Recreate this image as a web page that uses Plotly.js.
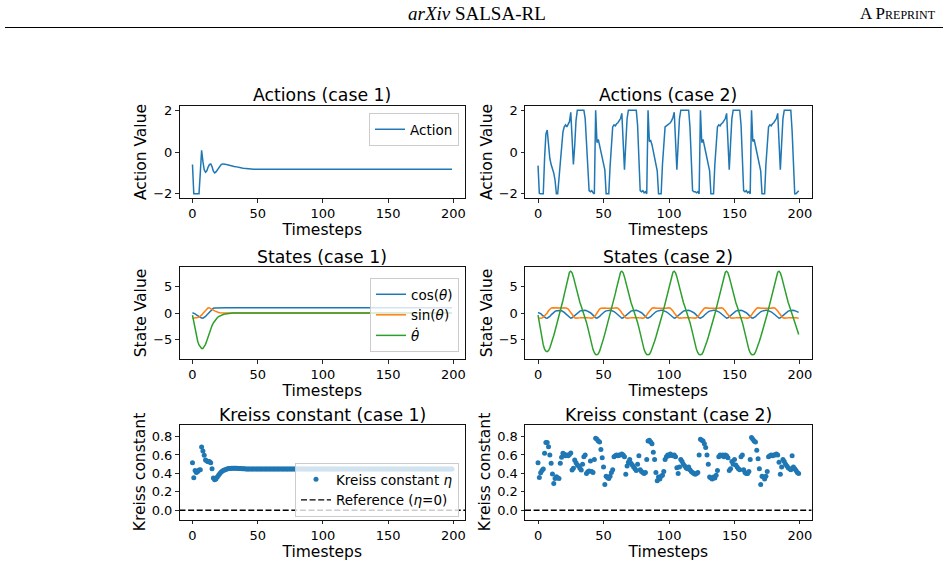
<!DOCTYPE html>
<html>
<head>
<meta charset="utf-8">
<script src="https://cdn.plot.ly/plotly-3.0.1.min.js"></script>
<style>
  html, body { margin: 0; padding: 0; background: #fff; }
  #chart { width: 948px; height: 565px; }
</style>
</head>
<body>
<div id="chart"></div>
<script>
// ---- Case 1: actions ----
const action1 = [
  -0.6, -2.0, -2.0, -2.0, -2.0, -2.0, -1.0, 0.08, -0.45, -0.85,
  -0.97, -0.9, -0.72, -0.6, -0.57, -0.7, -0.92, -1.0, -0.95, -0.85,
  -0.75, -0.66, -0.6, -0.57, -0.56, -0.58, -0.6, -0.62, -0.64, -0.65,
  -0.67, -0.68, -0.69, -0.7, -0.72, -0.73, -0.75, -0.76, -0.77, -0.78,
  -0.79, -0.8, -0.81, -0.82, -0.83, -0.83, -0.83, -0.83, -0.83, -0.83,
  -0.83, -0.83, -0.83, -0.83, -0.83, -0.83, -0.83, -0.83, -0.83, -0.83,
  -0.83, -0.83, -0.83, -0.83, -0.83, -0.83, -0.83, -0.83, -0.83, -0.83,
  -0.83, -0.83, -0.83, -0.83, -0.83, -0.83, -0.83, -0.83, -0.83, -0.83,
  -0.83, -0.83, -0.83, -0.83, -0.83, -0.83, -0.83, -0.83, -0.83, -0.83,
  -0.83, -0.83, -0.83, -0.83, -0.83, -0.83, -0.83, -0.83, -0.83, -0.83,
  -0.83, -0.83, -0.83, -0.83, -0.83, -0.83, -0.83, -0.83, -0.83, -0.83,
  -0.83, -0.83, -0.83, -0.83, -0.83, -0.83, -0.83, -0.83, -0.83, -0.83,
  -0.83, -0.83, -0.83, -0.83, -0.83, -0.83, -0.83, -0.83, -0.83, -0.83,
  -0.83, -0.83, -0.83, -0.83, -0.83, -0.83, -0.83, -0.83, -0.83, -0.83,
  -0.83, -0.83, -0.83, -0.83, -0.83, -0.83, -0.83, -0.83, -0.83, -0.83,
  -0.83, -0.83, -0.83, -0.83, -0.83, -0.83, -0.83, -0.83, -0.83, -0.83,
  -0.83, -0.83, -0.83, -0.83, -0.83, -0.83, -0.83, -0.83, -0.83, -0.83,
  -0.83, -0.83, -0.83, -0.83, -0.83, -0.83, -0.83, -0.83, -0.83, -0.83,
  -0.83, -0.83, -0.83, -0.83, -0.83, -0.83, -0.83, -0.83, -0.83, -0.83,
  -0.83, -0.83, -0.83, -0.83, -0.83, -0.83, -0.83, -0.83, -0.83, -0.83
];

// ---- Case 2: actions ----
const action2 = [
  -0.65, -1.98, -2, -2, -2, -0.3, 0.85, 1.05, 0.3, -0.3,
  -0.6, -0.8, -1.0, -1.35, -2, -2, -1.2, -0.3, 0.3, 0.95,
  1.2, 1.3, 1.2, 1.35, 1.45, 1.9, 0.4, -0.6, 0.3, 1.5,
  2, 2, 2, 2, 2, 2, 1.6, 0.2, -1.2, -1.85,
  -1.9, -1.85, -1.95, -2,
  2.0, 0.45, 0.6, 0.3, 0.0, -0.25, -0.5, -0.85, -2, -2,
  -2, -0.7, 0.55, 1.2, 1.3, 1.25, 1.35, 1.4, 1.5, 1.6,
  1.85, 0.6, -0.85, 0.4, 1.6, 2, 2, 2, 2, 2,
  2, 2, 1.3, -0.5, -1.85, -1.9, -1.85, -1.95, -1.9, -2,
  2.0, 0.5, 0.55, 0.35, 0.05, -0.2, -0.5, -0.9, -2, -2,
  -2, -0.6, 0.6, 1.2, 1.25, 1.3, 1.35, 1.4, 1.5, 1.65,
  1.9, 0.5, -0.85, 0.4, 1.6, 2, 2, 2, 2, 2,
  2, 2, 1.2, -0.6, -1.85, -1.9, -1.9, -1.95, -1.9, -2,
  2.0, 0.45, 0.6, 0.3, 0.0, -0.3, -0.55, -0.9, -2, -2,
  -2, -0.6, 0.6, 1.2, 1.3, 1.25, 1.35, 1.4, 1.5, 1.6,
  1.85, 0.5, -0.85, 0.4, 1.6, 2, 2, 2, 2, 2,
  2, 1.3, -0.5, -1.85, -1.9, -1.85, -1.95, -1.9, -2,
  2.0, 0.5, 0.6, 0.3, 0.0, -0.3, -0.55, -0.9, -2, -2,
  -2, -0.6, 0.6, 1.2, 1.3, 1.25, 1.35, 1.4, 1.5, 1.6,
  1.85, 0.5, -0.85, 0.4, 1.6, 2, 2, 2, 2, 2,
  2, 1.0, -0.8, -2, -2, -1.9, -1.85
];

// ---- Case 1: states ----
const cos1 = [
  0.05, 0.0, -0.15, -0.35, -0.55, -0.75, -0.9, -0.98, -1.0, -0.88,
  -0.65, -0.38, -0.1, 0.25, 0.55, 0.78, 0.9, 0.96, 0.98, 0.99,
  1, 1, 1, 1, 1, 1, 1, 1, 1, 1,
  1, 1, 1, 1, 1, 1, 1, 1, 1, 1, 1, 1, 1, 1, 1, 1, 1, 1, 1, 1,
  1, 1, 1, 1, 1, 1, 1, 1, 1, 1, 1, 1, 1, 1, 1, 1, 1, 1, 1, 1,
  1, 1, 1, 1, 1, 1, 1, 1, 1, 1, 1, 1, 1, 1, 1, 1, 1, 1, 1, 1,
  1, 1, 1, 1, 1, 1, 1, 1, 1, 1, 1, 1, 1, 1, 1, 1, 1, 1, 1, 1,
  1, 1, 1, 1, 1, 1, 1, 1, 1, 1, 1, 1, 1, 1, 1, 1, 1, 1, 1, 1,
  1, 1, 1, 1, 1, 1, 1, 1, 1, 1, 1, 1, 1, 1, 1, 1, 1, 1, 1, 1,
  1, 1, 1, 1, 1, 1, 1, 1, 1, 1, 1, 1, 1, 1, 1, 1, 1, 1, 1, 1,
  1, 1, 1, 1, 1, 1, 1, 1, 1, 1, 1, 1, 1, 1, 1, 1, 1, 1, 1, 1,
  1, 1, 1, 1, 1, 1, 1, 1, 1, 1
];
const sin1 = [
  -1.0, -1.0, -0.99, -0.95, -0.88, -0.78, -0.62, -0.4, -0.1, 0.2,
  0.55, 0.85, 1.0, 0.97, 0.88, 0.72, 0.55, 0.4, 0.27, 0.17,
  0.1, 0.06, 0.03, 0.01, 0, 0, 0, 0, 0, 0,
  0, 0, 0, 0, 0, 0, 0, 0, 0, 0, 0, 0, 0, 0, 0, 0, 0, 0, 0, 0,
  0, 0, 0, 0, 0, 0, 0, 0, 0, 0, 0, 0, 0, 0, 0, 0, 0, 0, 0, 0,
  0, 0, 0, 0, 0, 0, 0, 0, 0, 0, 0, 0, 0, 0, 0, 0, 0, 0, 0, 0,
  0, 0, 0, 0, 0, 0, 0, 0, 0, 0, 0, 0, 0, 0, 0, 0, 0, 0, 0, 0,
  0, 0, 0, 0, 0, 0, 0, 0, 0, 0, 0, 0, 0, 0, 0, 0, 0, 0, 0, 0,
  0, 0, 0, 0, 0, 0, 0, 0, 0, 0, 0, 0, 0, 0, 0, 0, 0, 0, 0, 0,
  0, 0, 0, 0, 0, 0, 0, 0, 0, 0, 0, 0, 0, 0, 0, 0, 0, 0, 0, 0,
  0, 0, 0, 0, 0, 0, 0, 0, 0, 0, 0, 0, 0, 0, 0, 0, 0, 0, 0, 0,
  0, 0, 0, 0, 0, 0, 0, 0, 0, 0
];
const thetaDot1 = [
  -0.4, -1.8, -3.2, -4.4, -5.4, -6.1, -6.5, -6.8, -6.8, -6.5,
  -6.0, -5.3, -4.5, -3.7, -3.0, -2.4, -1.9, -1.5, -1.15, -0.9,
  -0.7, -0.55, -0.42, -0.32, -0.25, -0.19, -0.14, -0.1, -0.07, -0.05,
  -0.03, -0.02, -0.01, 0, 0, 0, 0, 0, 0, 0,
  0, 0, 0, 0, 0, 0, 0, 0, 0, 0, 0, 0, 0, 0, 0, 0, 0, 0, 0, 0,
  0, 0, 0, 0, 0, 0, 0, 0, 0, 0, 0, 0, 0, 0, 0, 0, 0, 0, 0, 0,
  0, 0, 0, 0, 0, 0, 0, 0, 0, 0, 0, 0, 0, 0, 0, 0, 0, 0, 0, 0,
  0, 0, 0, 0, 0, 0, 0, 0, 0, 0, 0, 0, 0, 0, 0, 0, 0, 0, 0, 0,
  0, 0, 0, 0, 0, 0, 0, 0, 0, 0, 0, 0, 0, 0, 0, 0, 0, 0, 0, 0,
  0, 0, 0, 0, 0, 0, 0, 0, 0, 0, 0, 0, 0, 0, 0, 0, 0, 0, 0, 0,
  0, 0, 0, 0, 0, 0, 0, 0, 0, 0, 0, 0, 0, 0, 0, 0, 0, 0, 0, 0,
  0, 0, 0, 0, 0, 0, 0, 0, 0, 0, 0, 0, 0, 0, 0, 0, 0, 0, 0, 0
];

// ---- Case 2: states ----
const cos2 = [
  0.1, 0.05, -0.1, -0.35, -0.6, -0.82, -0.96,
  -1, -0.9, -0.65, -0.35, -0.1, 0.15, 0.32, 0.44, 0.5, 0.52, 0.49, 0.42, 0.3, 0.12, -0.12, -0.37, -0.65, -0.9,
  -1, -0.92, -0.71, -0.42, -0.17, 0.05, 0.23, 0.36, 0.45, 0.51, 0.53, 0.51, 0.45, 0.36, 0.23, 0.05, -0.17, -0.42, -0.71, -0.92,
  -1, -0.91, -0.67, -0.37, -0.12, 0.1, 0.28, 0.41, 0.48, 0.52, 0.52, 0.48, 0.41, 0.28, 0.1, -0.12, -0.37, -0.67, -0.91,
  -1, -0.92, -0.71, -0.42, -0.17, 0.05, 0.23, 0.36, 0.45, 0.51, 0.53, 0.51, 0.45, 0.36, 0.23, 0.05, -0.17, -0.42, -0.71, -0.92,
  -1, -0.92, -0.71, -0.42, -0.17, 0.05, 0.23, 0.36, 0.45, 0.51, 0.53, 0.51, 0.45, 0.36, 0.23, 0.05, -0.17, -0.42, -0.71, -0.92,
  -1, -0.92, -0.71, -0.42, -0.17, 0.05, 0.23, 0.36, 0.45, 0.51, 0.53, 0.51, 0.45, 0.36, 0.23, 0.05, -0.17, -0.42, -0.71, -0.92,
  -1, -0.92, -0.71, -0.42, -0.17, 0.05, 0.23, 0.36, 0.45, 0.51, 0.53, 0.51, 0.45, 0.36, 0.23, 0.05, -0.17, -0.42, -0.71, -0.92,
  -1, -0.92, -0.71, -0.42, -0.17, 0.05, 0.23, 0.36, 0.45, 0.51, 0.53, 0.51, 0.45, 0.36, 0.23, 0.05, -0.17, -0.42, -0.71, -0.92,
  -1, -0.92, -0.71, -0.42, -0.17, 0.05, 0.23, 0.36, 0.45, 0.51, 0.53, 0.51, 0.45, 0.36, 0.23, 0.05, -0.17, -0.42, -0.71, -0.92,
  -1, -0.92, -0.71, -0.42, -0.17, 0.05, 0.23, 0.36, 0.45, 0.51, 0.53, 0.51, 0.45, 0.36, 0.23, 0.12
];
const sin2 = [
  -0.99, -1.0, -0.99, -0.94, -0.8, -0.57, -0.3,
  0, 0.42, 0.76, 0.94, 0.995, 0.98, 0.94, 0.9, 0.875, 0.87, 0.88, 0.91, 0.95, 0.99, 0.99, 0.93, 0.76, 0.42,
  0, -0.39, -0.71, -0.91, -0.98, -1.0, -0.97, -0.93, -0.9, -0.875, -0.87, -0.875, -0.9, -0.93, -0.97, -1.0, -0.98, -0.91, -0.71, -0.39,
  0, 0.41, 0.74, 0.93, 0.99, 0.995, 0.96, 0.92, 0.89, 0.87, 0.87, 0.89, 0.92, 0.96, 0.995, 0.99, 0.93, 0.74, 0.41,
  0, -0.39, -0.71, -0.91, -0.98, -1.0, -0.97, -0.93, -0.9, -0.875, -0.87, -0.875, -0.9, -0.93, -0.97, -1.0, -0.98, -0.91, -0.71, -0.39,
  0, 0.39, 0.71, 0.91, 0.98, 1.0, 0.97, 0.93, 0.9, 0.875, 0.87, 0.875, 0.9, 0.93, 0.97, 1.0, 0.98, 0.91, 0.71, 0.39,
  0, -0.39, -0.71, -0.91, -0.98, -1.0, -0.97, -0.93, -0.9, -0.875, -0.87, -0.875, -0.9, -0.93, -0.97, -1.0, -0.98, -0.91, -0.71, -0.39,
  0, 0.39, 0.71, 0.91, 0.98, 1.0, 0.97, 0.93, 0.9, 0.875, 0.87, 0.875, 0.9, 0.93, 0.97, 1.0, 0.98, 0.91, 0.71, 0.39,
  0, -0.39, -0.71, -0.91, -0.98, -1.0, -0.97, -0.93, -0.9, -0.875, -0.87, -0.875, -0.9, -0.93, -0.97, -1.0, -0.98, -0.91, -0.71, -0.39,
  0, 0.39, 0.71, 0.91, 0.98, 1.0, 0.97, 0.93, 0.9, 0.875, 0.87, 0.875, 0.9, 0.93, 0.97, 1.0, 0.98, 0.91, 0.71, 0.39,
  0, -0.39, -0.71, -0.91, -0.98, -1.0, -0.97, -0.93, -0.9, -0.875, -0.87, -0.875, -0.9, -0.93, -0.97, -0.99
];
const thetaDot2 = [
  -0.4, -2.0, -3.6, -5.0, -6.1, -6.9, -7.3, -7.4, -7.2, -6.7,
  -6.0, -5.2, -4.3, -3.4, -2.5, -1.6, -0.7, 0.3, 1.3, 2.4,
  3.5, 4.7, 5.9, 7.0, 7.8, 8.0,
  7.7, 6.9, 5.8, 4.7, 3.7, 2.8, 2.0, 1.3, 0.6, -0.1, -0.9, -1.8, -2.8, -3.9, -5.0, -6.1, -7.0, -7.6, -7.95, -8.0,
  -7.8, -7.3, -6.6, -5.8, -4.9, -4.0, -3.1, -2.2, -1.3, -0.4, 0.6, 1.6, 2.6, 3.7, 4.8, 5.9, 7.0, 7.8, 8.0,
  7.7, 6.9, 5.8, 4.7, 3.7, 2.8, 2.0, 1.3, 0.6, -0.1, -0.9, -1.8, -2.8, -3.9, -5.0, -6.1, -7.0, -7.6, -7.95, -8.0,
  -7.9, -7.5, -6.9, -6.2, -5.4, -4.6, -3.8, -2.9, -2.0, -1.1, -0.2, 0.8, 1.8, 2.8, 3.9, 5.0, 6.1, 7.1, 7.8, 8.0,
  7.7, 6.9, 5.8, 4.7, 3.7, 2.8, 2.0, 1.3, 0.6, -0.1, -0.9, -1.8, -2.8, -3.9, -5.0, -6.1, -7.0, -7.6, -7.95, -8.0,
  -7.9, -7.5, -6.9, -6.2, -5.4, -4.6, -3.8, -2.9, -2.0, -1.1, -0.2, 0.8, 1.8, 2.8, 3.9, 5.0, 6.1, 7.1, 7.8, 8.0,
  7.7, 6.9, 5.8, 4.7, 3.7, 2.8, 2.0, 1.3, 0.6, -0.1, -0.9, -1.8, -2.8, -3.9, -5.0, -6.1, -7.0, -7.6, -7.95, -8.0,
  -7.9, -7.5, -6.9, -6.2, -5.4, -4.6, -3.8, -2.9, -2.0, -1.1, -0.2, 0.8, 1.8, 2.8, 3.9, 5.0, 6.1, 7.1, 7.8, 8.0,
  7.7, 6.9, 5.8, 4.7, 3.7, 2.8, 2.0, 1.3, 0.6, -0.1, -0.9, -1.7, -2.5, -3.3, -4.1
];

// ---- Kreiss constant per timestep ----
const kreiss1 = [
  0.516, 0.353, 0.43, 0.41, 0.42, 0.436, 0.44, 0.687, 0.644, 0.596,
  0.545, 0.535, 0.527, 0.53, 0.516, 0.45, 0.35, 0.33, 0.34, 0.36,
  0.38, 0.4, 0.415, 0.425, 0.433, 0.44, 0.445, 0.449, 0.452, 0.454,
  0.455, 0.456, 0.456, 0.456, 0.455, 0.454, 0.453, 0.452, 0.451, 0.45,
  0.449, 0.448, 0.448, 0.448, 0.448, 0.448, 0.448, 0.448, 0.448, 0.448,
  0.448, 0.448, 0.448, 0.448, 0.448, 0.448, 0.448, 0.448, 0.448, 0.448,
  0.448, 0.448, 0.448, 0.448, 0.448, 0.448, 0.448, 0.448, 0.448, 0.448,
  0.448, 0.448, 0.448, 0.448, 0.448, 0.448, 0.448, 0.448, 0.448, 0.448,
  0.448, 0.448, 0.448, 0.448, 0.448, 0.448, 0.448, 0.448, 0.448, 0.448,
  0.448, 0.448, 0.448, 0.448, 0.448, 0.448, 0.448, 0.448, 0.448, 0.448,
  0.448, 0.448, 0.448, 0.448, 0.448, 0.448, 0.448, 0.448, 0.448, 0.448,
  0.448, 0.448, 0.448, 0.448, 0.448, 0.448, 0.448, 0.448, 0.448, 0.448,
  0.448, 0.448, 0.448, 0.448, 0.448, 0.448, 0.448, 0.448, 0.448, 0.448,
  0.448, 0.448, 0.448, 0.448, 0.448, 0.448, 0.448, 0.448, 0.448, 0.448,
  0.448, 0.448, 0.448, 0.448, 0.448, 0.448, 0.448, 0.448, 0.448, 0.448,
  0.448, 0.448, 0.448, 0.448, 0.448, 0.448, 0.448, 0.448, 0.448, 0.448,
  0.448, 0.448, 0.448, 0.448, 0.448, 0.448, 0.448, 0.448, 0.448, 0.448,
  0.448, 0.448, 0.448, 0.448, 0.448, 0.448, 0.448, 0.448, 0.448, 0.448,
  0.448, 0.448, 0.448, 0.448, 0.448, 0.448, 0.448, 0.448, 0.448, 0.448,
  0.448, 0.448, 0.448, 0.448, 0.448, 0.448, 0.448, 0.448, 0.448, 0.448
];
const kreiss2 = [
  0.516, 0.356, 0.407, 0.43, 0.447, 0.618, 0.735, 0.735, 0.69, 0.6,
  0.51, 0.393, 0.29, 0.345, 0.364, 0.353, 0.345, 0.51, 0.575, 0.618,
  0.607, 0.59, 0.6, 0.59, 0.605, 0.62, 0.436, 0.455, 0.545, 0.516,
  0.49, 0.48, 0.455, 0.436, 0.5, 0.58, 0.6, 0.4, 0.418, 0.425,
  0.535, 0.42, 0.41, 0.55,
  0.78, 0.77, 0.75, 0.74, 0.66, 0.57, 0.47, 0.28, 0.37, 0.355,
  0.345, 0.37, 0.41, 0.44, 0.58, 0.59, 0.6, 0.59, 0.6, 0.6,
  0.61, 0.6, 0.58, 0.39, 0.48, 0.52, 0.55, 0.51, 0.49, 0.47,
  0.45, 0.43, 0.5, 0.59, 0.44, 0.42, 0.41, 0.4, 0.41, 0.55,
  0.75, 0.76, 0.74, 0.72, 0.63, 0.55, 0.41, 0.32, 0.36, 0.34,
  0.37, 0.38, 0.42, 0.55, 0.58, 0.6, 0.59, 0.61, 0.6, 0.59,
  0.6, 0.58, 0.46, 0.4, 0.47, 0.55, 0.53, 0.5, 0.48, 0.46,
  0.45, 0.47, 0.44, 0.42, 0.41, 0.4, 0.39, 0.4, 0.41, 0.6,
  0.77, 0.76, 0.75, 0.72, 0.68, 0.6, 0.5, 0.36, 0.35, 0.34,
  0.36, 0.35, 0.38, 0.43, 0.58, 0.6, 0.59, 0.6, 0.58, 0.6,
  0.59, 0.57, 0.43, 0.45, 0.53, 0.5, 0.55, 0.49, 0.47, 0.45,
  0.44, 0.58, 0.6, 0.44, 0.41, 0.4, 0.4, 0.42, 0.55,
  0.79, 0.77, 0.75, 0.74, 0.65, 0.56, 0.45, 0.28, 0.37, 0.36,
  0.34, 0.37, 0.42, 0.58, 0.59, 0.6, 0.59, 0.6, 0.6, 0.61,
  0.6, 0.52, 0.39, 0.47, 0.55, 0.53, 0.5, 0.48, 0.46, 0.45,
  0.44, 0.59, 0.47, 0.45, 0.43, 0.41, 0.4
];

const timesteps = action1.map((_, i) => i);
const xRange = [-9.95, 208.95];
const etaRef = 0;

const C_BLUE = '#1f77b4', C_ORANGE = '#ff7f0e', C_GREEN = '#2ca02c';
const FONT = 'DejaVu Sans, sans-serif';

function line(y, color, name, xa, ya, extra) {
  return Object.assign({
    x: timesteps, y: y, type: 'scatter', mode: 'lines', name: name,
    line: { color: color, width: 1.5 }, xaxis: xa, yaxis: ya, hoverinfo: 'skip'
  }, extra || {});
}

const traces = [
  line(action1, C_BLUE, 'Action', 'x', 'y', { legend: 'legend' }),
  line(action2, C_BLUE, 'Action', 'x2', 'y2', { showlegend: false }),
  line(cos1, C_BLUE, 'cos(<i>θ</i>)', 'x3', 'y3', { legend: 'legend2' }),
  line(sin1, C_ORANGE, 'sin(<i>θ</i>)', 'x3', 'y3', { legend: 'legend2' }),
  line(thetaDot1, C_GREEN, '<i>θ\u0307</i>', 'x3', 'y3', { legend: 'legend2' }),
  line(cos2, C_BLUE, 'cos(θ)', 'x4', 'y4', { showlegend: false }),
  line(sin2, C_ORANGE, 'sin(θ)', 'x4', 'y4', { showlegend: false }),
  line(thetaDot2, C_GREEN, 'θ\u0307', 'x4', 'y4', { showlegend: false }),
  {
    x: timesteps, y: kreiss1, type: 'scatter', mode: 'markers', name: 'Kreiss constant <i>η</i>',
    marker: { color: C_BLUE, size: 5 }, xaxis: 'x5', yaxis: 'y5', legend: 'legend3', hoverinfo: 'skip'
  },
  {
    x: xRange, y: [etaRef, etaRef], type: 'scatter', mode: 'lines', name: 'Reference (<i>η</i>=0)',
    line: { color: '#000', width: 1.4, dash: '6px,2.6px' }, xaxis: 'x5', yaxis: 'y5', legend: 'legend3', hoverinfo: 'skip'
  },
  {
    x: timesteps, y: kreiss2, type: 'scatter', mode: 'markers', name: 'Kreiss constant',
    marker: { color: C_BLUE, size: 5 }, xaxis: 'x6', yaxis: 'y6', showlegend: false, hoverinfo: 'skip'
  },
  {
    x: xRange, y: [etaRef, etaRef], type: 'scatter', mode: 'lines', name: 'Reference',
    line: { color: '#000', width: 1.4, dash: '6px,2.6px' }, xaxis: 'x6', yaxis: 'y6', showlegend: false, hoverinfo: 'skip'
  }
];

// plot-area geometry (paper fractions)
const W = 948, H = 565;
const colX = [[179.5 / W, 465 / W], [525 / W, 811.7 / W]];
const rowY = [[1 - 198 / H, 1 - 106 / H], [1 - 359 / H, 1 - 267 / H], [1 - 519.5 / H, 1 - 424.5 / H]];

const baseAxis = {
  showline: true, mirror: true, linecolor: '#111', linewidth: 1,
  ticks: 'outside', ticklen: 3.5, tickwidth: 0.9, tickcolor: '#111',
  showgrid: false, zeroline: false,
  tickfont: { family: FONT, size: 13, color: '#000' }
};
function xAxis(col, row, anchor) {
  return Object.assign({}, baseAxis, {
    domain: colX[col], anchor: anchor, range: xRange, tick0: 0, dtick: 50,
    title: { text: 'Timesteps', font: { family: FONT, size: 15.5, color: '#000' }, standoff: 3 }
  });
}
function yAxis(col, row, anchor, range, dtick, tickformat, label) {
  return Object.assign({}, baseAxis, {
    domain: rowY[row], anchor: anchor, range: range, tick0: 0, dtick: dtick, tickformat: tickformat,
    title: { text: label, font: { family: FONT, size: 15.5, color: '#000' }, standoff: 2 }
  });
}

const legendBase = {
  bgcolor: 'rgba(255,255,255,0.8)', bordercolor: '#cccccc', borderwidth: 1,
  font: { family: FONT, size: 13.5, color: '#000' }, xanchor: 'right', tracegroupgap: 0
};

function subTitle(text, col, yPix) {
  return {
    text: text, xref: 'paper', yref: 'paper', x: (colX[col][0] + colX[col][1]) / 2, y: 1 - yPix / H,
    xanchor: 'center', yanchor: 'middle', showarrow: false,
    font: { family: FONT, size: 17.3, color: '#000' }
  };
}

const layout = {
  width: W, height: H,
  margin: { l: 0, r: 0, t: 0, b: 0 },
  paper_bgcolor: '#fff', plot_bgcolor: '#fff',
  xaxis: xAxis(0, 0, 'y'), yaxis: yAxis(0, 0, 'x', [-2.2, 2.2], 2, '', 'Action Value'),
  xaxis2: xAxis(1, 0, 'y2'), yaxis2: yAxis(1, 0, 'x2', [-2.2, 2.2], 2, '', 'Action Value'),
  xaxis3: xAxis(0, 1, 'y3'), yaxis3: yAxis(0, 1, 'x3', [-8.8, 8.8], 5, '', 'State Value'),
  xaxis4: xAxis(1, 1, 'y4'), yaxis4: yAxis(1, 1, 'x4', [-8.8, 8.8], 5, '', 'State Value'),
  xaxis5: xAxis(0, 2, 'y5'), yaxis5: yAxis(0, 2, 'x5', [-0.1, 0.93], 0.2, '.1f', 'Kreiss constant'),
  xaxis6: xAxis(1, 2, 'y6'), yaxis6: yAxis(1, 2, 'x6', [-0.1, 0.93], 0.2, '.1f', 'Kreiss constant'),
  legend: Object.assign({}, legendBase, { x: 459 / W, y: 1 - 113 / H, yanchor: 'top' }),
  legend2: Object.assign({}, legendBase, { x: 459 / W, y: 1 - 352 / H, yanchor: 'bottom' }),
  legend3: Object.assign({}, legendBase, { x: 459 / W, y: 1 - 517 / H, yanchor: 'bottom' }),
  annotations: [
    subTitle('Actions (case 1)', 0, 95),
    subTitle('Actions (case 2)', 1, 95),
    subTitle('States (case 1)', 0, 256.5),
    subTitle('States (case 2)', 1, 256.5),
    subTitle('Kreiss constant (case 1)', 0, 415),
    subTitle('Kreiss constant (case 2)', 1, 415),
    {
      text: '<i>arXiv</i> SALSA-RL', xref: 'paper', yref: 'paper', x: 477 / W, y: 1 - 13 / H,
      xanchor: 'center', yanchor: 'middle', showarrow: false,
      font: { family: 'Liberation Serif, serif', size: 19, color: '#000' }
    },
    {
      text: 'A P<span style="font-size:12px">REPRINT</span>', xref: 'paper', yref: 'paper',
      x: 938 / W, y: 1 - 13 / H, xanchor: 'right', yanchor: 'middle', showarrow: false,
      font: { family: 'Liberation Serif, serif', size: 17, color: '#000' }
    }
  ],
  shapes: [
    { type: 'line', xref: 'paper', yref: 'paper', x0: 5 / W, x1: 943 / W, y0: 1 - 27.5 / H, y1: 1 - 27.5 / H,
      line: { color: '#000', width: 1.2 } }
  ]
};

Plotly.newPlot('chart', traces, layout, { staticPlot: true, displayModeBar: false });
</script>
</body>
</html>
